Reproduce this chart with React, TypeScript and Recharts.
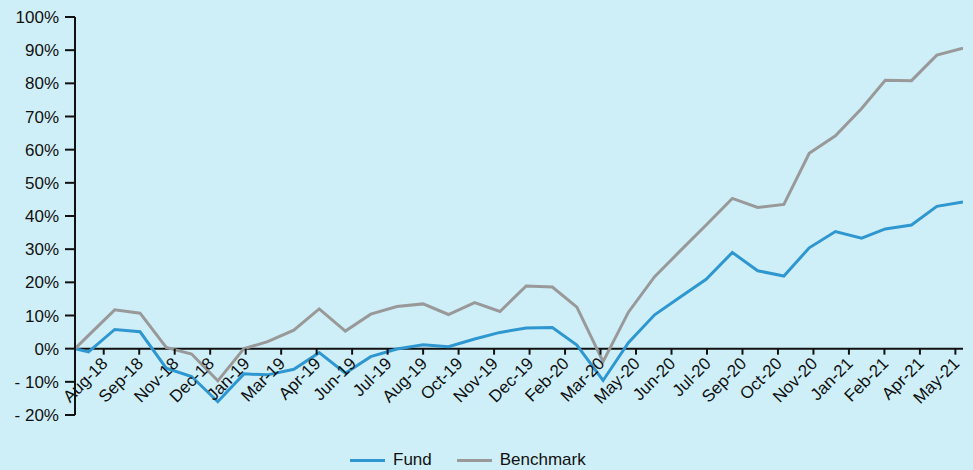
import React from 'react';
import { LineChart, Line, XAxis, YAxis, ReferenceLine, Legend } from 'recharts';

// ---- data (percent cumulative return) ----
const DATES = [
  '2018-07-15', '2018-07-31', '2018-08-31', '2018-09-30', '2018-10-31', '2018-11-30', '2018-12-31',
  '2019-01-31', '2019-02-28', '2019-03-31', '2019-04-30', '2019-05-31', '2019-06-30', '2019-07-31',
  '2019-08-31', '2019-09-30', '2019-10-31', '2019-11-30', '2019-12-31', '2020-01-31', '2020-02-29',
  '2020-03-31', '2020-04-30', '2020-05-31', '2020-06-30', '2020-07-31', '2020-08-31', '2020-09-30',
  '2020-10-31', '2020-11-30', '2020-12-31', '2021-01-31', '2021-02-28', '2021-03-31', '2021-04-30',
  '2021-05-31',
];
const FUND = [
  0, -1.0, 5.8, 5.1, -5.9, -8.4, -16.0,
  -7.6, -7.9, -6.2, -1.2, -7.4, -2.4, -0.1,
  1.2, 0.6, 2.9, 4.9, 6.2, 6.4, 1.1,
  -9.6, 1.8, 10.2, 15.5, 20.9, 29.0, 23.5,
  21.9, 30.4, 35.3, 33.3, 36.1, 37.3, 42.9,
  44.2,
];
const BENCHMARK = [
  0, 4.0, 11.7, 10.7, 0.4, -1.6, -9.7,
  0.0, 2.1, 5.6, 12.0, 5.3, 10.4, 12.7,
  13.5, 10.3, 13.9, 11.2, 18.9, 18.6, 12.5,
  -3.9, 11.0, 21.7, 29.4, 37.3, 45.3, 42.6,
  43.5, 58.9, 64.2, 72.4, 80.9, 80.8, 88.5,
  90.6,
];
const SERIES_NAMES = ['Fund', 'Benchmark'];
const X_TICK_DATES = [
  '2018-08-18', '2018-09-29', '2018-11-10', '2018-12-22', '2019-02-02', '2019-03-16', '2019-04-27',
  '2019-06-08', '2019-07-20', '2019-08-31', '2019-10-12', '2019-11-23', '2020-01-04', '2020-02-15',
  '2020-03-28', '2020-05-09', '2020-06-20', '2020-08-01', '2020-09-12', '2020-10-24', '2020-12-05',
  '2021-01-16', '2021-02-27', '2021-04-10', '2021-05-22',
];
const X_TICK_LABELS = [
  'Aug-18', 'Sep-18', 'Nov-18', 'Dec-18', 'Jan-19', 'Mar-19', 'Apr-19',
  'Jun-19', 'Jul-19', 'Aug-19', 'Oct-19', 'Nov-19', 'Dec-19', 'Feb-20',
  'Mar-20', 'May-20', 'Jun-20', 'Jul-20', 'Sep-20', 'Oct-20', 'Nov-20',
  'Jan-21', 'Feb-21', 'Apr-21', 'May-21',
];
const Y_TICKS = [-20, -10, 0, 10, 20, 30, 40, 50, 60, 70, 80, 90, 100];

// ---- layout / style ----
const W = 973;
const H = 470;
const MARGIN = { top: 17, right: 10, bottom: 0, left: 15 };
const X_AXIS_H = 35;
const LEGEND_H = 20;
const PLOT_H = H - MARGIN.top - MARGIN.bottom - X_AXIS_H - LEGEND_H;
const Y_MIN = Y_TICKS[0];
const Y_MAX = Y_TICKS[Y_TICKS.length - 1];
const ZERO_SHIFT = (PLOT_H * (0 - Y_MIN)) / (Y_MAX - Y_MIN);

const BG = '#cfeff8';
const AXIS = '#111111';
const TEXT = '#111111';
const FUND_COLOR = '#2f97d0';
const BENCH_COLOR = '#999999';
const FONT = '"Liberation Sans", Arial, sans-serif';
const FS = 17;
const AXIS_W = 2;
const LINE_W = 3;

const toDay = (s: string) => Date.parse(s + 'T00:00:00Z') / 86400000;
const data = DATES.map((d, i) => ({ t: toDay(d), fund: FUND[i], benchmark: BENCHMARK[i] }));
const X_TICKS = X_TICK_DATES.map(toDay);
const X_MIN = data[0].t;
const X_MAX = data[data.length - 1].t;

const XTick = (props: any) => {
  const { x, y, payload } = props;
  const i = X_TICKS.indexOf(payload.value);
  const label = i >= 0 ? X_TICK_LABELS[i] : '';
  const zy = y - ZERO_SHIFT;
  const ax = x + 5;
  const ay = zy + 16;
  return (
    <g>
      <line x1={x} x2={x} y1={zy} y2={zy + 6} stroke={AXIS} strokeWidth={AXIS_W} />
      <text
        x={ax}
        y={ay}
        transform={`rotate(-45 ${ax} ${ay})`}
        textAnchor="end"
        fill={TEXT}
        style={{ fontSize: FS, fontFamily: FONT }}
      >
        {label}
      </text>
    </g>
  );
};

const YTick = (props: any) => {
  const { x, y, payload } = props;
  const v = payload.value;
  const label = v < 0 ? `-\u00A0${-v}%` : `${v}%`;
  return (
    <text
      x={x}
      y={y}
      dy={6}
      textAnchor="end"
      fill={TEXT}
      style={{ fontSize: FS, fontFamily: FONT }}
    >
      {label}
    </text>
  );
};

const renderLegend = (props: any) => {
  const items = [...(props.payload || [])].sort(
    (a: any, b: any) => SERIES_NAMES.indexOf(a.value) - SERIES_NAMES.indexOf(b.value)
  );
  return (
    <div
      style={{
        height: LEGEND_H,
        display: 'flex',
        alignItems: 'center',
        paddingLeft: 350,
        fontFamily: FONT,
        fontSize: FS,
        color: TEXT,
      }}
    >
      {items.map((e: any, i: number) => (
        <div key={i} style={{ display: 'flex', alignItems: 'center', marginRight: 25 }}>
          <div style={{ width: 35, height: 3, background: e.color, marginRight: 8 }} />
          <span style={{ lineHeight: `${LEGEND_H}px` }}>{e.value}</span>
        </div>
      ))}
    </div>
  );
};

export default function App() {
  return (
    <div style={{ position: 'absolute', left: 0, top: 0, width: W, height: H, background: BG }}>
      <LineChart width={W} height={H} data={data} margin={MARGIN}>
        <XAxis
          dataKey="t"
          type="number"
          domain={[X_MIN, X_MAX]}
          allowDataOverflow
          ticks={X_TICKS}
          interval={0}
          height={X_AXIS_H}
          axisLine={false}
          tickLine={false}
          tickSize={0}
          tickMargin={0}
          tick={<XTick />}
        />
        <YAxis
          type="number"
          domain={[Y_MIN, Y_MAX]}
          ticks={Y_TICKS}
          interval={0}
          width={60}
          tickSize={10}
          tickMargin={6}
          axisLine={{ stroke: AXIS, strokeWidth: AXIS_W }}
          tickLine={{ stroke: AXIS, strokeWidth: AXIS_W }}
          tick={<YTick />}
        />
        <ReferenceLine y={0} stroke={AXIS} strokeWidth={AXIS_W} />
        <Line
          type="linear"
          dataKey="fund"
          name={SERIES_NAMES[0]}
          stroke={FUND_COLOR}
          strokeWidth={LINE_W}
          dot={false}
          isAnimationActive={false}
        />
        <Line
          type="linear"
          dataKey="benchmark"
          name={SERIES_NAMES[1]}
          stroke={BENCH_COLOR}
          strokeWidth={LINE_W}
          dot={false}
          isAnimationActive={false}
        />
        <Legend
          verticalAlign="bottom"
          content={renderLegend}
          wrapperStyle={{ left: 0, width: W, height: LEGEND_H }}
        />
      </LineChart>
    </div>
  );
}
